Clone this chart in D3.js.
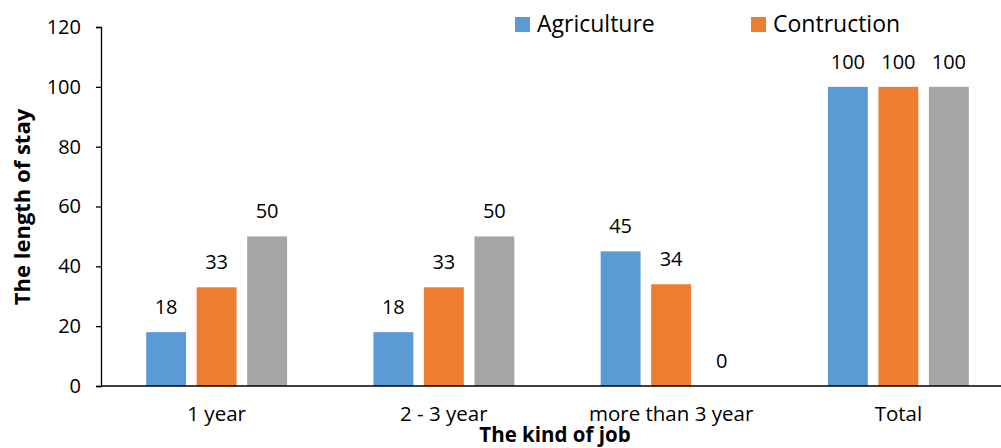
<!DOCTYPE html>
<html>
<head>
<meta charset="utf-8">
<script src="https://cdn.jsdelivr.net/npm/d3@7"></script>
<style>
  html, body { margin: 0; padding: 0; background: #fff; }
  svg { display: block; }
  text { font-family: "Open Sans", "Noto Sans", sans-serif; fill: #000; }
</style>
</head>
<body>
<svg id="chart" width="1001" height="448"></svg>
<script>
const categories = ["1 year", "2 - 3 year", "more than 3 year", "Total"];
const seriesNames = ["Agriculture", "Contruction", "Series3"];
const agriculture = [18, 18, 45, 100];
const contruction = [33, 33, 34, 100];
const series3 = [50, 50, 0, 100];
const yTicks = [0, 20, 40, 60, 80, 100, 120];
const legendNames = ["Agriculture", "Contruction"];
const colors = ["#5B9BD5", "#ED7D31", "#A5A5A5"];

const seriesValues = [agriculture, contruction, series3];
const svg = d3.select("#chart");

const x0 = d3.scaleBand().domain(categories).range([103, 1012])
  .paddingInner(1 - 151.5 / 227.25).paddingOuter((1 - 151.5 / 227.25) / 2);
const x1 = d3.scaleBand().domain(seriesNames).range([0, x0.bandwidth()])
  .paddingInner(0.21).paddingOuter(0.105);
const y = d3.scaleLinear().domain([0, 120]).range([386, 27]);

// y axis
const yAxis = svg.append("g").attr("transform", "translate(101,0)")
  .call(d3.axisLeft(y).tickValues(yTicks).tickSize(5).tickPadding(15).tickFormat(d3.format("d")));
yAxis.select(".domain").attr("stroke", "#000").attr("stroke-width", 1.3);
yAxis.selectAll(".tick line").attr("stroke", "#000").attr("stroke-width", 1.3);
yAxis.selectAll(".tick text").style("font-size", "20px").attr("fill", "#000");

// bars
const groups = svg.append("g").selectAll("g")
  .data(categories).join("g")
  .attr("transform", d => `translate(${x0(d)},0)`);

groups.selectAll("rect")
  .data((c, ci) => seriesNames.map((s, si) => ({ s, si, v: seriesValues[si][ci] })))
  .join("rect")
  .attr("x", d => x1(d.s))
  .attr("y", d => y(d.v))
  .attr("width", x1.bandwidth())
  .attr("height", d => y(0) - y(d.v))
  .attr("fill", d => colors[d.si]);

groups.selectAll("text.val")
  .data((c, ci) => seriesNames.map((s, si) => ({ s, si, v: seriesValues[si][ci] })))
  .join("text")
  .attr("class", "val")
  .attr("x", d => x1(d.s) + x1.bandwidth() / 2)
  .attr("y", d => y(d.v) - 18)
  .attr("text-anchor", "middle")
  .style("font-size", "20px")
  .text(d => d.v);

// x axis baseline
svg.append("line")
  .attr("x1", 101).attr("x2", 1001)
  .attr("y1", y(0)).attr("y2", y(0))
  .attr("stroke", "#000").attr("stroke-width", 1.3);

// category labels
svg.append("g").selectAll("text")
  .data(categories).join("text")
  .attr("x", d => x0(d) + x0.bandwidth() / 2)
  .attr("y", 421)
  .attr("text-anchor", "middle")
  .style("font-size", "20.5px")
  .text(d => d);

// axis titles
svg.append("text")
  .attr("transform", "translate(30,207) rotate(-90)")
  .attr("text-anchor", "middle")
  .style("font-size", "22px").style("font-weight", "bold")
  .text("The length of stay");

svg.append("text")
  .attr("x", 555).attr("y", 442)
  .attr("text-anchor", "middle")
  .style("font-size", "20.5px").style("font-weight", "bold")
  .text("The kind of job");

// legend
const legendX = d3.scalePoint().domain(legendNames).range([515, 751]);
const lg = svg.append("g").selectAll("g").data(legendNames).join("g")
  .attr("transform", d => `translate(${legendX(d)},17)`);
lg.append("rect").attr("width", 15).attr("height", 15)
  .attr("fill", (d, i) => colors[i]);
lg.append("text").attr("x", 22).attr("y", 15)
  .style("font-size", "23px")
  .text(d => d);
</script>
</body>
</html>
